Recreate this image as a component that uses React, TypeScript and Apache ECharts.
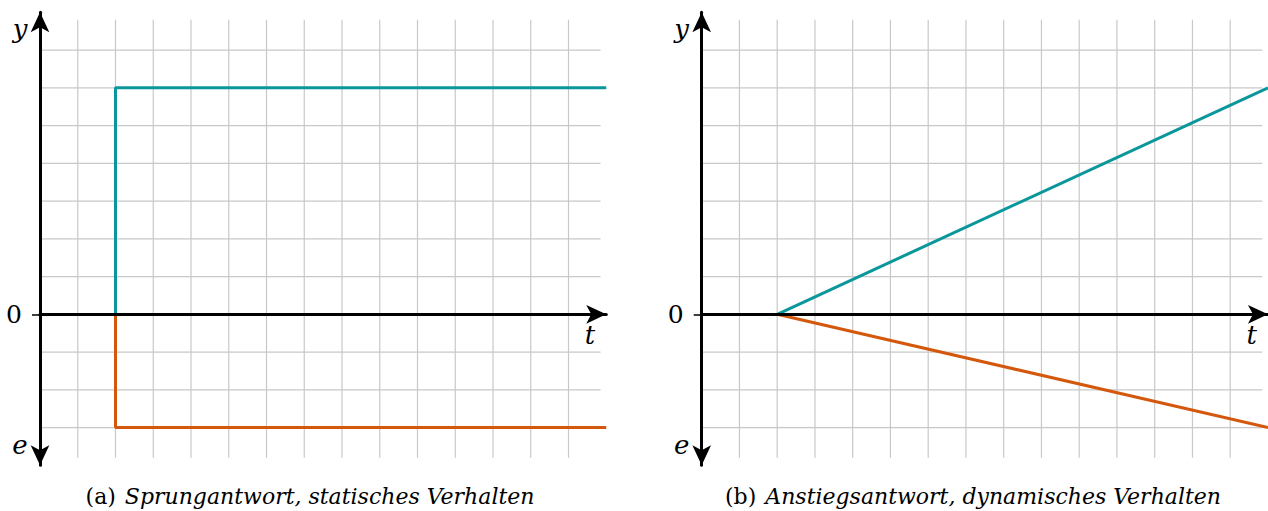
import React, { useEffect, useRef } from "react";
import * as echarts from "echarts";

// Axis ranges (time t to the right, output y up, error e down)
const T_MIN = 0;
const T_MAX = 15;
const Y_MIN = -4;
const Y_MAX = 8;

// Extent of the background grid paper
const GRID_T_END = 14.85;
const GRID_Y_LOW = -3.8;
const GRID_Y_HIGH = 7.8;
const gridTicksT = [1, 2, 3, 4, 5, 6, 7, 8, 9, 10, 11, 12, 13, 14];
const gridTicksY = [-3, -2, -1, 1, 2, 3, 4, 5, 6, 7];

// (a) step response: output jumps, error jumps
const stepOutput = [[2, 0], [2, 6], [15, 6]];
const stepError = [[2, 0], [2, -3], [15, -3]];

// (b) ramp response: output and error grow linearly
const rampOutput = [[2, 0], [15, 6]];
const rampError = [[2, 0], [15, -3]];

const captionTags = ["(a)", "(b)"];
const captionTexts = [
  "Sprungantwort, statisches Verhalten",
  "Anstiegsantwort, dynamisches Verhalten",
];

const TEAL = "#0a979b";
const ORANGE = "#d4580c";
const GRID_COLOR = "#c8c8c8";
const SERIF = '"DejaVu Serif", serif';

const UNIT = 37.75;
const PANEL_LEFT = [40, 701.7];
const ORIGIN_Y = 314.3;
const GRID_TOP = ORIGIN_Y - Y_MAX * UNIT;

function gridSegments() {
  const segs: number[][] = [];
  gridTicksT.forEach((t) => segs.push([t, GRID_Y_LOW, t, GRID_Y_HIGH]));
  gridTicksY.forEach((y) => segs.push([T_MIN, y, GRID_T_END, y]));
  return segs;
}

function buildOption() {
  const grids = PANEL_LEFT.map((left) => ({
    left,
    top: GRID_TOP,
    width: (T_MAX - T_MIN) * UNIT,
    height: (Y_MAX - Y_MIN) * UNIT,
    outerBoundsMode: "none",
    containLabel: false,
  }));

  const xAxes = PANEL_LEFT.map((_, i) => ({
    type: "value",
    gridIndex: i,
    min: T_MIN,
    max: T_MAX,
    z: 5,
    axisLine: {
      show: true,
      onZero: true,
      symbol: ["none", "arrow"],
      symbolSize: [14, 20],
      lineStyle: { color: "#000", width: 3 },
    },
    axisTick: { show: false },
    axisLabel: { show: false },
    splitLine: { show: false },
  }));

  const yAxes = PANEL_LEFT.map((_, i) => ({
    type: "value",
    gridIndex: i,
    min: Y_MIN,
    max: Y_MAX,
    z: 5,
    axisLine: {
      show: true,
      onZero: true,
      symbol: ["arrow", "arrow"],
      symbolSize: [14, 20],
      lineStyle: { color: "#000", width: 3 },
    },
    axisTick: {
      show: true,
      customValues: [0],
      length: 8,
      lineStyle: { color: "#000", width: 1.5 },
    },
    axisLabel: {
      show: true,
      customValues: [0],
      margin: 18,
      color: "#000",
      fontFamily: SERIF,
      fontSize: 25,
      fontWeight: "lighter",
    },
    splitLine: { show: false },
  }));

  const segs = gridSegments();
  const curves = [
    [stepOutput, stepError],
    [rampOutput, rampError],
  ];

  const series: any[] = [];
  PANEL_LEFT.forEach((_, i) => {
    series.push({
      type: "custom",
      xAxisIndex: i,
      yAxisIndex: i,
      silent: true,
      z: 1,
      data: segs,
      encode: { x: [0, 2], y: [1, 3] },
      renderItem: (_p: any, api: any) => {
        const a = api.coord([api.value(0), api.value(1)]);
        const b = api.coord([api.value(2), api.value(3)]);
        return {
          type: "line",
          shape: { x1: a[0], y1: a[1], x2: b[0], y2: b[1] },
          style: { stroke: GRID_COLOR, lineWidth: 1.2 },
        };
      },
    });
    const [out, err] = curves[i];
    [
      [out, TEAL],
      [err, ORANGE],
    ].forEach(([data, color]) => {
      series.push({
        type: "line",
        xAxisIndex: i,
        yAxisIndex: i,
        data,
        showSymbol: false,
        silent: true,
        z: 3,
        lineStyle: { color, width: 3 },
      });
    });
  });

  const italic = {
    fontFamily: SERIF,
    fontStyle: "italic",
    fontSize: 26,
    fill: "#000",
  };

  const graphic: any[] = [];
  PANEL_LEFT.forEach((left, i) => {
    graphic.push(
      {
        type: "text",
        x: left - 20,
        y: 29,
        style: { ...italic, text: "y", align: "center", verticalAlign: "middle" },
      },
      {
        type: "text",
        x: left - 20,
        y: 445,
        style: { ...italic, text: "e", align: "center", verticalAlign: "middle" },
      },
      {
        type: "text",
        x: left + 550,
        y: 335,
        style: { ...italic, text: "t", align: "center", verticalAlign: "middle" },
      },
      {
        type: "text",
        x: i === 0 ? 310 : 973,
        y: 496,
        style: {
          text: `{u|${captionTags[i]}}{s| }{i|${captionTexts[i]}}`,
          align: "center",
          verticalAlign: "middle",
          rich: {
            u: { fontFamily: SERIF, fontSize: 22, fill: "#000" },
            s: { fontFamily: SERIF, fontSize: 22, width: 9 },
            i: { fontFamily: SERIF, fontSize: 22, fontStyle: "italic", fill: "#000" },
          },
        },
      }
    );
  });

  return {
    animation: false,
    backgroundColor: "#fff",
    grid: grids,
    xAxis: xAxes,
    yAxis: yAxes,
    series,
    graphic,
  };
}

export default function App() {
  const ref = useRef<HTMLDivElement>(null);

  useEffect(() => {
    if (!ref.current) return;
    const chart = echarts.init(ref.current, undefined, { renderer: "svg" });
    chart.setOption(buildOption() as any);
    return () => chart.dispose();
  }, []);

  return (
    <div
      ref={ref}
      style={{ position: "fixed", left: 0, top: 0, width: 1268, height: 511 }}
    />
  );
}
